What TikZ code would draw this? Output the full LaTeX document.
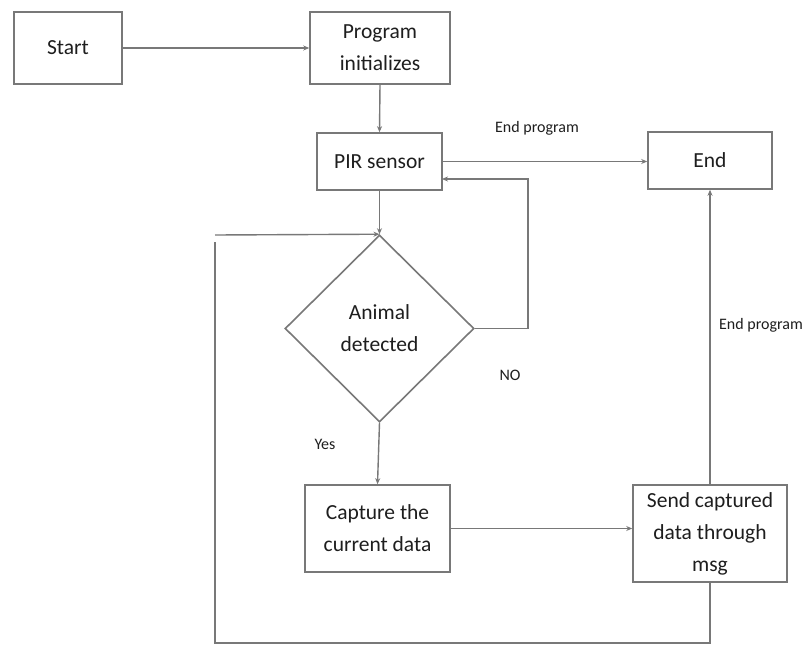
\documentclass[tikz,border=0pt]{standalone}
\usepackage{fontspec}
\setmainfont{Carlito}
\usetikzlibrary{shapes.geometric,arrows.meta}
\definecolor{linec}{RGB}{120,120,120}
\definecolor{textc}{RGB}{30,30,30}
\begin{document}
\begin{tikzpicture}[x=1pt,y=-1pt,
  box/.style={draw=linec,line width=1.6pt,rectangle,inner sep=0pt,align=center,text=textc,font=\fontsize{21.5}{32}\selectfont},
  dec/.style={draw=linec,line width=1.6pt,diamond,inner sep=0pt,align=center,text=textc,font=\fontsize{21.5}{32}\selectfont,minimum width=189pt,minimum height=187pt},
  conn/.style={draw=linec,line width=1.4pt},
  arr/.style={conn,-{Stealth[length=6pt,width=5pt,fill=black!80]}},
  lbl/.style={text=textc,font=\fontsize{16}{20}\selectfont,inner sep=0pt}]
\useasboundingbox (0,0) rectangle (806,645);
\fill[white] (0,0) rectangle (806,645);

\node[box,minimum width=108pt,minimum height=72pt] (start) at (68,48) {Start};
\node[box,minimum width=140pt,minimum height=72pt] (init) at (380,48) {Program\\initializes};
\node[box,minimum width=125pt,minimum height=57pt] (pir) at (379.5,161.5) {PIR sensor};
\node[box,minimum width=124pt,minimum height=57pt] (end) at (710,160.5) {End};
\node[dec] (dia) at (379.5,328.5) {Animal\\detected};
\node[box,minimum width=145pt,minimum height=87pt] (cap) at (377.5,528.5) {Capture the\\current data};
\node[box,minimum width=154pt,minimum height=97pt] (send) at (710,533.5) {Send captured\\data through\\msg};

\coordinate (noa) at (528,328.5);
\coordinate (nob) at (528,179);
\coordinate (noin) at (442,179);
\coordinate (lpa) at (710,643);
\coordinate (lpb) at (215,643);
\coordinate (lpc) at (215,242);
\coordinate (lpd) at (215,235);

\draw[arr] (start.east) -- (init.west);
\draw[arr] (init.south) -- (pir.north);
\draw[arr] (pir.east) -- (pir.east -| end.west);
\draw[arr] (dia.east) -- (noa) -- (nob) -- (noin);
\draw[arr] (pir.south) -- (dia.north);
\draw[conn] (send.south) -- (lpa) -- (lpb) -- (lpc);
\draw[arr] (lpd) -- (dia.north);
\draw[arr] (dia.south) -- (cap.north);
\draw[arr] (cap.east) -- (cap.east -| send.west);
\draw[arr] (send.north) -- (end.south);

\node[lbl] (l1) at (537,128) {End program};
\node[lbl] (l2) at (510,375) {NO};
\node[lbl] (l3) at (325,444) {Yes};
\node[lbl] (l4) at (761,325) {End program};
\end{tikzpicture}
\end{document}
